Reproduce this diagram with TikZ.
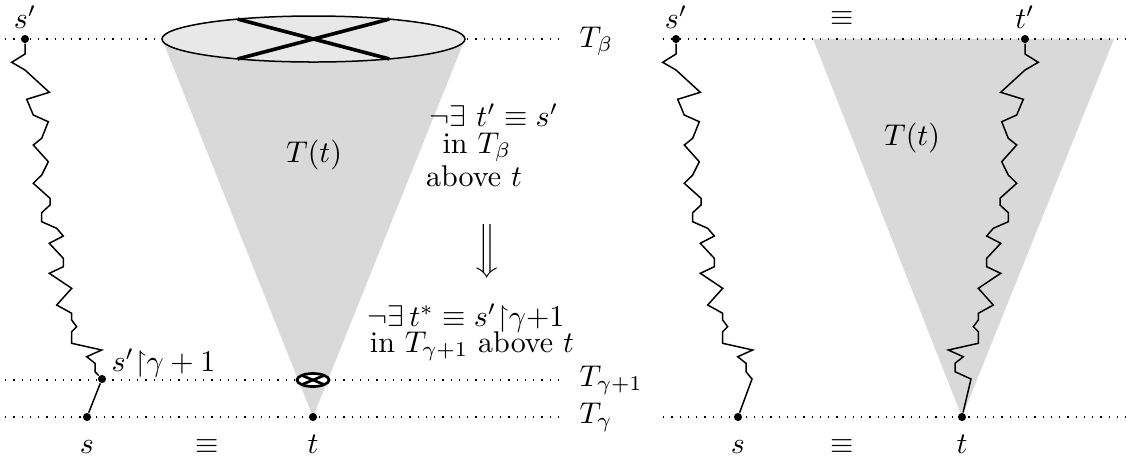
\documentclass[tikz,border=0pt]{standalone}
\usepackage{amsmath,amssymb}
\begin{document}
\begin{tikzpicture}[x=0.3333pt,y=-0.3333pt,
  lvl/.style={dash pattern=on 0.45pt off 2.3pt, line width=0.45pt},
  dotpt/.style={circle,fill=black,inner sep=0pt,minimum size=2.7pt},
  zz/.style={line width=0.5pt},
  xcross/.style={line width=1.2pt},
  conefill/.style={fill=black!15},
  lab/.style={anchor=base,inner sep=0pt},
  tlab/.style={anchor=base west,inner sep=0pt}]
\useasboundingbox (0,0) rectangle (1139,461);

% ---------- left panel ----------
\coordinate (eL) at (162,39);
\coordinate (eR) at (465,39);
\coordinate (ec) at (313.5,39);
\fill[conefill] (eL) -- (eR) -- (313,417) -- cycle;

% level lines
\coordinate (lb0) at (5,39);
\coordinate (lg10) at (5,380);
\coordinate (lg0) at (5,417);
\node[tlab] (Tb) at (579,47) {$T_\beta$};
\node[tlab] (Tg1) at (579,386) {$T_{\gamma+1}$};
\node[tlab] (Tg) at (579,423) {$T_\gamma$};
\coordinate (lb1) at (566,39);
\coordinate (lg11) at (566,380);
\coordinate (lg1) at (566,417);
\draw[lvl] (lb0) -- (lb1);
\draw[lvl] (lg10) -- (lg11);
\draw[lvl] (lg0) -- (lg1);

% ellipse with cross
\draw[fill=black!9,line width=0.5pt] (ec) ellipse [x radius=151.5, y radius=23];
\coordinate (c1) at (237.75,19.1);
\coordinate (c2) at (389.25,58.9);
\coordinate (c3) at (237.75,58.9);
\coordinate (c4) at (389.25,19.1);
\draw[xcross] (c1) -- (c2);
\draw[xcross] (c3) -- (c4);

% circle-cross
\coordinate (ox) at (313,380);
\draw[fill=white,line width=0.9pt] (ox) ellipse [x radius=16, y radius=6.5];
\coordinate (o1) at (302,375.5);
\coordinate (o2) at (324,384.5);
\coordinate (o3) at (302,384.5);
\coordinate (o4) at (324,375.5);
\draw[line width=0.9pt] (o1) -- (o2);
\draw[line width=0.9pt] (o3) -- (o4);

% points
\node[dotpt] (sp) at (25,39) {};
\node[dotpt] (sg) at (102,379) {};
\node[dotpt] (s) at (87,417) {};
\node[dotpt] (t) at (313,417) {};

\draw[zz] (sp) -- (25,54) -- (11.7,62.3) -- (25,70) -- (49.3,92.3) -- (26.7,99.3) -- (33.3,115) -- (48.3,121.7) -- (41.7,138.3) -- (33.3,145) -- (48.3,161.7) -- (41.7,175) -- (33.3,183.3) -- (50,198.3) -- (50,205) -- (41.7,212.7) -- (41.7,221.7) -- (56.7,228.3) -- (63.3,236) -- (49.3,243.3) -- (63.3,258.3) -- (63.3,266.7) -- (49.3,273.3) -- (71.7,288.3) -- (56.7,305) -- (71.7,313.3) -- (71.7,320) -- (76.7,326.7) -- (71.7,331.7) -- (71.7,343.3) -- (101.7,350) -- (86.7,356.7) -- (95,363.3) -- (95,371.7) -- (sg);
\draw[zz] (sg) -- (s);

% labels
\node[lab] (lsp) at (25,28) {$s'$};
\node[lab] (ls) at (87,453) {$s$};
\node[lab] (leq) at (207,453) {$\equiv$};
\node[lab] (lt) at (313,453) {$t$};
\node[tlab] (lsg) at (111,371) {$s'{\upharpoonright}\gamma+1$};
\node[lab] (lT) at (314,162) {$T(t)$};

\node[lab] (n1) at (494,126) {$\neg\exists\ t'\equiv s'$};
\node[lab] (n2) at (477,153) {in $T_\beta$};
\node[lab] (n3) at (474,186) {above $t$};
\node (arr) at (487,251) {$\Big\Downarrow$};
\node[lab] (n4) at (466,326) {$\neg\exists\, t^*\equiv s'{\upharpoonright}\gamma{+}1$};
\node[lab] (n5) at (472,352) {in $T_{\gamma+1}$ above $t$};

% ---------- right panel ----------
\fill[conefill] (813,39) -- (1114,39) -- (962,417) -- cycle;
\coordinate (rb0) at (663,39);
\coordinate (rb1) at (1132,39);
\coordinate (rg0) at (663,417);
\coordinate (rg1) at (1132,417);
\draw[lvl] (rb0) -- (rb1);
\draw[lvl] (rg0) -- (rg1);

\node[dotpt] (rsp) at (676,39) {};
\node[dotpt] (rs) at (738,417) {};
\node[dotpt] (rtp) at (1025,39) {};
\node[dotpt] (rt) at (962,417) {};

\draw[zz] (rsp) -- (676,54) -- (662.7,62.3) -- (676,70) -- (700.3,92.3) -- (677.7,99.3) -- (684.3,115) -- (699.3,121.7) -- (692.7,138.3) -- (684.3,145) -- (699.3,161.7) -- (692.7,175) -- (684.3,183.3) -- (701,198.3) -- (701,205) -- (692.7,212.7) -- (692.7,221.7) -- (707.7,228.3) -- (714.3,236) -- (700.3,243.3) -- (714.3,258.3) -- (714.3,266.7) -- (700.3,273.3) -- (722.7,288.3) -- (707.7,305) -- (722.7,313.3) -- (722.7,320) -- (727.7,326.7) -- (722.7,331.7) -- (722.7,343.3) -- (752.7,350) -- (737.7,356.7) -- (746,363.3) -- (746,371.7) -- (752,379) -- (rs);

\draw[zz] (rtp) -- (1025,54) -- (1038.3,62.3) -- (1025,70) -- (1000.7,92.3) -- (1023.3,99.3) -- (1016.7,115) -- (1001.7,121.7) -- (1008.3,138.3) -- (1016.7,145) -- (1001.7,161.7) -- (1008.3,175) -- (1016.7,183.3) -- (1000,198.3) -- (1000,205) -- (1008.3,212.7) -- (1008.3,221.7) -- (993.3,228.3) -- (986.7,236) -- (1000.7,243.3) -- (986.7,258.3) -- (986.7,266.7) -- (1000.7,273.3) -- (978.3,288.3) -- (993.3,305) -- (978.3,313.3) -- (978.3,320) -- (973.3,326.7) -- (978.3,331.7) -- (978.3,343.3) -- (948.3,350) -- (963.3,356.7) -- (955,363.3) -- (955,371.7) -- (971,379) -- (rt);

\node[lab] (rlsp) at (676,28) {$s'$};
\node[lab] (rleq0) at (842,25) {$\equiv$};
\node[lab] (rltp) at (1025,28) {$t'$};
\node[lab] (rls) at (738,453) {$s$};
\node[lab] (rleq) at (842,453) {$\equiv$};
\node[lab] (rlt) at (962,453) {$t$};
\node[lab] (rT) at (912,145) {$T(t)$};
\end{tikzpicture}
\end{document}
